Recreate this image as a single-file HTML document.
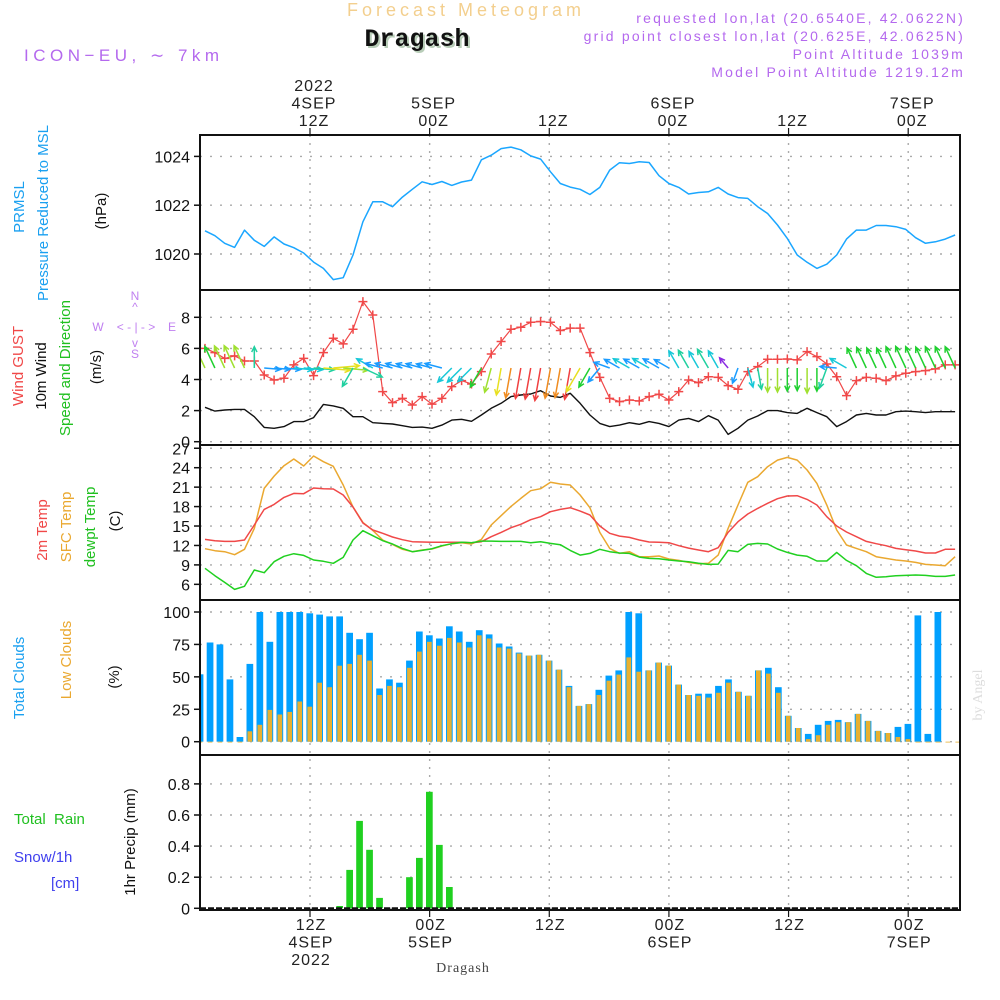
<!DOCTYPE html>
<html><head><meta charset="utf-8"><title>Forecast Meteogram Dragash</title>
<style>
html,body{margin:0;padding:0;background:#fff;}
svg{display:block;font-family:"Liberation Sans",sans-serif;}
</style></head>
<body>
<svg id="chart" width="1000" height="1000" viewBox="0 0 1000 1000" xmlns="http://www.w3.org/2000/svg">
<defs>
<clipPath id="clipAll"><rect x="201" y="136" width="758" height="773"/></clipPath>
</defs>
<!-- header -->
<text x="466" y="16" text-anchor="middle" font-size="18" fill="#f3cf8e" letter-spacing="4">Forecast Meteogram</text>
<text x="419" y="48" text-anchor="middle" font-size="25" font-weight="bold" font-family="Liberation Mono,monospace" fill="#b8cdb8">Dragash</text>
<text x="417" y="46" text-anchor="middle" font-size="25" font-weight="bold" font-family="Liberation Mono,monospace" fill="#111">Dragash</text>
<text x="24" y="61" font-size="17" fill="#b469ee" letter-spacing="4.5">ICON−EU, ∼ 7km</text>
<g font-size="14" fill="#b469ee" text-anchor="end" letter-spacing="2.2">
<text x="965" y="23">requested lon,lat (20.6540E, 42.0622N)</text>
<text x="965" y="41">grid point closest lon,lat (20.625E, 42.0625N)</text>
<text x="965" y="59">Point Altitude 1039m</text>
<text x="965" y="77">Model Point Altitude 1219.12m</text>
</g>
<!-- left labels -->
<g font-size="15">
<text transform="translate(24,207) rotate(-90)" text-anchor="middle" fill="#1aa0f0">PRMSL</text>
<text transform="translate(48,213) rotate(-90)" text-anchor="middle" fill="#1aa0f0">Pressure Reduced to MSL</text>
<text transform="translate(106,211) rotate(-90)" text-anchor="middle" fill="#111">(hPa)</text>
<text transform="translate(23,366) rotate(-90)" text-anchor="middle" fill="#f04848">Wind GUST</text>
<text transform="translate(46,376) rotate(-90)" text-anchor="middle" fill="#111">10m Wind</text>
<text transform="translate(70,368) rotate(-90)" text-anchor="middle" fill="#20c020">Speed and Direction</text>
<text transform="translate(101,367) rotate(-90)" text-anchor="middle" fill="#111">(m/s)</text>
<text transform="translate(47,530) rotate(-90)" text-anchor="middle" fill="#f04848">2m Temp</text>
<text transform="translate(71,527) rotate(-90)" text-anchor="middle" fill="#eaa830">SFC Temp</text>
<text transform="translate(95,527) rotate(-90)" text-anchor="middle" fill="#20c020">dewpt Temp</text>
<text transform="translate(120,521) rotate(-90)" text-anchor="middle" fill="#111">(C)</text>
<text transform="translate(24,678) rotate(-90)" text-anchor="middle" fill="#1aa0f0">Total Clouds</text>
<text transform="translate(71,660) rotate(-90)" text-anchor="middle" fill="#eaa830">Low Clouds</text>
<text transform="translate(119,677) rotate(-90)" text-anchor="middle" fill="#111">(%)</text>
<text x="14" y="824" fill="#20c020" xml:space="preserve">Total  Rain</text>
<text x="14" y="862" fill="#4040ee">Snow/1h</text>
<text x="51" y="888" fill="#4040ee">[cm]</text>
<text transform="translate(135,842) rotate(-90)" text-anchor="middle" fill="#111">1hr Precip (mm)</text>
</g>
<g font-size="12" fill="#c080f0" text-anchor="middle">
<text x="135" y="300">N</text><text x="135" y="311">^</text>
<text x="98" y="331">W</text><text x="136" y="331" xml:space="preserve">&lt; - | - &gt;</text><text x="172" y="331">E</text>
<text x="135" y="347">v</text><text x="135" y="358">S</text>
</g>
<text transform="translate(982,695) rotate(-90)" text-anchor="middle" font-size="14" font-family="Liberation Serif,serif" fill="#ddd">by Angel</text>
<text x="463" y="972" text-anchor="middle" font-size="14" font-family="Liberation Serif,serif" fill="#444" letter-spacing="1">Dragash</text>
<g id="grid"></g>
<g id="marks" clip-path="url(#clipAll)"></g>
<g id="frames"></g>
<g id="labels"></g>
</svg>
<script>
// ---------- data ----------
var tickHours = [12, 24, 36, 48, 60, 72];
var topTickLines = [["2022","4SEP","12Z"],["5SEP","00Z"],["12Z"],["6SEP","00Z"],["12Z"],["7SEP","00Z"]];
var bottomTickLines = [["12Z","4SEP","2022"],["00Z","5SEP"],["12Z"],["00Z","6SEP"],["12Z"],["00Z","7SEP"]];
var pressure = [1020.95,1020.75,1020.44,1020.27,1020.98,1020.56,1020.31,1020.70,1020.41,1020.26,
1020.04,1019.67,1019.41,1018.95,1019.03,1019.96,1021.32,1022.14,1022.14,1021.94,
1022.33,1022.65,1022.96,1022.85,1022.97,1022.81,1022.95,1023.03,1023.86,1024.05,
1024.32,1024.38,1024.27,1024.02,1023.89,1023.37,1022.89,1022.74,1022.65,1022.44,
1022.73,1023.44,1023.74,1023.71,1023.78,1023.75,1023.21,1022.89,1022.73,1022.46,
1022.52,1022.55,1022.73,1022.46,1022.31,1022.28,1021.94,1021.66,1021.19,1020.64,
1019.96,1019.66,1019.41,1019.58,1019.96,1020.61,1020.98,1020.98,1021.17,1021.17,
1021.12,1021.01,1020.67,1020.44,1020.50,1020.61,1020.78];
var pressureTicks = [1020, 1022, 1024];
var windGust = [6.0,5.73,5.36,5.52,5.19,5.19,4.29,3.97,4.08,4.94,
5.36,4.25,5.73,6.65,6.29,7.23,9.01,8.15,3.22,2.51,
2.79,2.36,2.90,2.42,2.79,3.54,3.93,3.71,4.51,5.64,
6.44,7.23,7.36,7.68,7.73,7.68,7.15,7.30,7.30,
5.73,4.14,2.79,2.58,2.68,2.62,2.90,3.05,2.68,3.22,
3.97,3.80,4.18,4.14,3.61,3.37,4.51,4.83,5.30,5.30,
5.32,5.26,5.79,5.47,5.0,4.18,2.96,3.93,4.14,4.08,
3.93,4.23,4.40,4.51,4.57,4.68,4.94,4.94];
var windSpeed = [2.21,1.97,2.04,2.08,2.08,1.61,0.92,0.86,0.97,1.29,
1.29,1.55,2.40,2.30,2.15,1.61,1.61,1.22,1.18,1.14,
1.03,0.92,0.94,0.86,1.07,1.39,1.44,1.31,1.72,2.15,
2.47,2.90,3.0,3.07,3.28,2.94,2.85,3.11,2.47,
1.72,1.18,0.97,1.07,1.22,1.12,1.29,1.18,0.97,1.39,
1.50,1.29,1.67,1.39,0.47,0.86,1.39,1.65,2.0,2.0,
1.87,1.82,2.15,1.87,1.61,0.97,1.29,1.72,1.82,1.72,
1.72,1.93,1.97,1.93,1.87,1.93,1.93,1.93];
var windDir = [335,335,335,335,335,0,95,95,95,95,
95,95,95,85,95,210,115,300,285,285,
285,285,285,285,285,225,225,225,210,195,
190,190,190,190,190,190,190,190,210,
210,220,290,300,300,300,300,300,300,330,
330,330,330,330,320,200,165,170,180,180,
180,180,180,180,200,275,300,335,335,335,
335,335,335,335,335,335,335,335];
var windTicks = [0, 2, 4, 6, 8];
var temp2m = [12.94,12.73,12.63,12.63,12.84,15.15,17.57,18.34,19.42,20.04,
19.99,20.86,20.76,20.71,19.78,17.93,15.46,14.38,13.87,13.30,
12.89,12.58,12.53,12.48,12.48,12.48,12.48,12.43,12.58,13.35,
14.02,14.74,15.26,15.98,16.44,17.21,17.57,17.83,17.31,
16.70,15.0,13.87,13.45,13.25,12.84,12.53,12.48,12.43,11.96,
11.60,11.30,11.04,11.65,14.02,15.67,16.85,17.72,18.50,19.22,
19.63,19.68,19.11,18.24,16.44,15.0,14.07,13.35,12.63,12.27,
11.96,11.55,11.35,11.14,10.83,10.83,11.40,11.40];
var tempSfc = [11.5,11.19,11.04,10.57,11.4,14.64,20.81,22.71,24.31,25.34,
24.26,25.8,24.93,24.21,21.33,17.93,15.56,14.33,12.84,12.17,
11.40,11.04,11.30,11.45,11.91,12.27,12.43,12.22,12.94,15.15,
16.6,18.03,19.27,20.45,20.76,21.74,21.48,21.33,19.78,
17.83,14.02,11.55,10.78,11.04,10.27,10.27,10.37,9.91,9.70,
9.39,9.19,9.24,10.52,14.64,18.24,21.74,22.61,24.15,25.18,
25.59,25.18,23.64,21.58,18.24,14.38,12.07,11.55,11.04,10.27,
10.01,9.75,9.60,9.39,9.08,8.98,8.88,10.27];
var tempDew = [8.47,7.33,6.30,5.22,5.69,8.21,7.80,9.49,10.32,10.73,
10.47,9.75,9.55,9.24,10.16,12.84,14.28,13.51,12.73,12.22,
11.55,11.04,11.24,11.50,11.96,12.27,12.48,12.43,12.68,12.68,
12.63,12.63,12.63,12.43,12.58,12.32,12.12,11.24,10.52,
10.78,11.40,11.04,10.83,10.78,10.21,10.01,9.96,9.75,9.60,
9.49,9.24,9.08,9.13,11.24,11.04,12.17,12.32,12.22,11.45,
10.93,10.52,10.32,9.60,9.60,10.93,9.70,8.88,7.69,7.08,
7.18,7.33,7.38,7.44,7.38,7.23,7.23,7.44];
var tempTicks = [6, 9, 12, 15, 18, 21, 24, 27];
var cloudTotal = [52,76.5,75,48,3.6,60,100,77,100,100,
100,99,98,96.6,96.6,84,79,84,41,48,
45.5,62.5,85,82,79.6,89,85,77,86,82.7,
75.7,73.4,68.7,66.4,67,62.5,55.5,43,27.6,29,
40,51,55,100,99,55,61,58.7,44,36,
37,37,43,48,38.5,35.4,55,57,42,20,
10.6,6,13,16,16.8,15,21.4,16,8.3,6.7,
11.4,13.7,97.4,6,100,0,0];
var cloudLow = [0,0,0,0,0,8,13,24.5,21,23,
31,27,45.5,42,58.6,60,67,62.5,36,43,
42,57,69.5,77,74,80,76.5,72.6,82,79.6,
72.6,71.8,68,66.4,67,62.5,55.5,42,27.6,29,
36,47,51.7,65,54,55,61,58.7,44,36,
35.4,34,37.7,45.5,38.5,35.4,55,52.5,37.7,20,
10.6,2,5,13,15,15,21.4,16,8.3,6.7,
3.6,2,0,0,0,0,0];
var cloudTicks = [0, 25, 50, 75, 100];
var precip = [0,0,0,0,0,0,0,0,0,0,
0,0,0,0,0.015,0.247,0.562,0.376,0.067,0,
0,0.20,0.324,0.749,0.408,0.137,0,0,0,0,
0,0,0,0,0,0,0,0,0,0,
0,0,0,0,0,0,0,0,0,0,
0,0,0,0,0,0,0,0,0,0,
0,0,0,0,0,0,0,0,0,0,
0,0,0,0,0,0,0];
var precipTicks = [0, 0.2, 0.4, 0.6, 0.8];

// ---------- scales ----------
var PX0 = 200, PX1 = 960;
var panels = {
  pres: {top:135, bot:290},
  wind: {top:290, bot:445},
  temp: {top:445, bot:600},
  cloud:{top:600, bot:755},
  rain: {top:755, bot:910}
};
function xHour(h){ return 310 + (h - 12) * 9.97; }
function xLine(k){ return 205 + 9.87 * k; }
function xBar(j){ return 196.7 + 9.97 * j; }
function yPres(p){ return 254 - (p - 1020) * 24.4; }
function yWind(v){ return 441.7 - v * 15.55; }
function yTemp(t){ return 467.7 - (t - 24) * 6.48; }
function yCloud(c){ return 741.7 - c * 1.297; }
function yRain(r){ return 908.3 - r * 155.5; }

var NS = "http://www.w3.org/2000/svg";
function mk(tag, attrs, parent){
  var e = document.createElementNS(NS, tag);
  for (var k in attrs) e.setAttribute(k, attrs[k]);
  if (parent) parent.appendChild(e);
  return e;
}
var gGrid = document.getElementById("grid");
var gMarks = document.getElementById("marks");
var gFrames = document.getElementById("frames");
var gLabels = document.getElementById("labels");

function hGrid(ticks, yf, fmt, panelName){
  ticks.forEach(function(t){
    var y = yf(t);
    var ln = mk("line", {x1:PX0, x2:PX1, y1:y, y2:y, stroke:"#aaa", "stroke-width":1.4, "stroke-dasharray":"2,8"}, gGrid);
    
    
    var tk = mk("line", {x1:PX0-6, x2:PX0, y1:y, y2:y, stroke:"#111", "stroke-width":1.5}, gFrames);
    
    
    var tx = mk("text", {x:PX0-10, y:y+6, "text-anchor":"end", "font-size":16, fill:"#111"}, gLabels);
    tx.textContent = fmt(t);
    
    
  });
}
hGrid(pressureTicks, yPres, function(v){return String(v);}, "pressure");
hGrid(windTicks, yWind, function(v){return String(v);}, "wind");
hGrid(tempTicks, yTemp, function(v){return String(v);}, "temp");
hGrid(cloudTicks, yCloud, function(v){return String(v);}, "cloud");
hGrid(precipTicks, yRain, function(v){return v===0?"0":v.toFixed(1);}, "precip");

tickHours.forEach(function(h, i){
  var x = xHour(h);
  var vl = mk("line", {x1:x, x2:x, y1:135, y2:910, stroke:"#aaa", "stroke-width":1.4, "stroke-dasharray":"2,6"}, gGrid);
  
  
  var t1 = mk("line", {x1:x, x2:x, y1:128, y2:135, stroke:"#111", "stroke-width":1.2}, gFrames);
  
  
  var t2 = mk("line", {x1:x, x2:x, y1:910, y2:917, stroke:"#111", "stroke-width":1.2}, gFrames);
  
  
  var top = topTickLines[i];
  top.forEach(function(s, j){
    var y = 126 - (top.length - 1 - j) * 17.5;
    var tx = mk("text", {x:x+4, y:y, "text-anchor":"middle", "font-size":16, fill:"#222", "letter-spacing":1}, gLabels);
    tx.textContent = s;
    
    
  });
  bottomTickLines[i].forEach(function(s, j){
    var tx = mk("text", {x:x+1, y:930 + j*17.5, "text-anchor":"middle", "font-size":16, fill:"#222", "letter-spacing":1}, gLabels);
    tx.textContent = s;
    
    
  });
});

function polyline(vals, yf, color, name, w){
  var pts = vals.map(function(v, k){ return xLine(k).toFixed(1) + "," + yf(v).toFixed(1); }).join(" ");
  var p = mk("polyline", {points:pts, fill:"none", stroke:color, "stroke-width":w||1.5, "stroke-linejoin":"round"}, gMarks);
  
  
  return p;
}
polyline(pressure, yPres, "#1aa6ff", "pressure-line", 1.5);
polyline(windSpeed, yWind, "#111", "wind-speed-line", 1.4);
polyline(windGust, yWind, "#f04848", "wind-gust-line", 1.2);
windGust.forEach(function(v, k){
  var x = xLine(k), y = yWind(v);
  var c = mk("path", {d:"M"+(x-4.5)+","+y+"h9M"+x+","+(y-4.5)+"v9", stroke:"#f04848", "stroke-width":1.5, fill:"none"}, gMarks);
  
  
});
function windColor(s){
  if (s < 0.7) return "#8a2be2";
  if (s < 1.2) return "#1a9cff";
  if (s < 1.45) return "#18c8d8";
  if (s < 1.7) return "#20d0a0";
  if (s < 2.0) return "#20d030";
  if (s < 2.3) return "#a0e030";
  if (s < 2.7) return "#e8e020";
  if (s < 3.0) return "#f08c20";
  return "#f04040";
}
windDir.forEach(function(b, k){
  var s = windSpeed[k];
  var L = 10 + 7 * s;
  var x0 = xLine(k), y0 = 368;
  var r = b * Math.PI / 180;
  var x1 = x0 + Math.sin(r) * L, y1 = y0 - Math.cos(r) * L;
  var ang = Math.atan2(y1 - y0, x1 - x0);
  var h = 6, a1 = ang + Math.PI - 0.45, a2 = ang + Math.PI + 0.45;
  var d = "M"+x0.toFixed(1)+","+y0+"L"+x1.toFixed(1)+","+y1.toFixed(1)+
          "M"+(x1+Math.cos(a1)*h).toFixed(1)+","+(y1+Math.sin(a1)*h).toFixed(1)+"L"+x1.toFixed(1)+","+y1.toFixed(1)+
          "L"+(x1+Math.cos(a2)*h).toFixed(1)+","+(y1+Math.sin(a2)*h).toFixed(1);
  var p = mk("path", {d:d, stroke:windColor(s), "stroke-width":1.5, fill:"none"}, gMarks);
  
  
});

polyline(tempSfc, yTemp, "#eaa830", "sfc-temp-line", 1.5);
polyline(temp2m, yTemp, "#f04848", "temp-2m-line", 1.5);
polyline(tempDew, yTemp, "#20d020", "dewpt-temp-line", 1.5);

cloudTotal.forEach(function(v, j){
  var x = xBar(j);
  var y = yCloud(v);
  var r = mk("rect", {x:x.toFixed(1), y:y.toFixed(1), width:6.7, height:(yCloud(0)-y).toFixed(1), fill:"#00a0ff"}, gMarks);
  
  
  var lv = cloudLow[j];
  var yl = yCloud(lv);
  var r2 = mk("rect", {x:(x+1).toFixed(1), y:yl.toFixed(1), width:4.7, height:Math.max(0.8,(yCloud(0)-yl)).toFixed(1), fill:"#e8b030"}, gMarks);
  
  
});

precip.forEach(function(v, j){
  if (v <= 0) return;
  var x = xBar(j);
  var y = yRain(v);
  var r = mk("rect", {x:x.toFixed(1), y:y.toFixed(1), width:6.7, height:(yRain(0)-y).toFixed(1), fill:"#20d020"}, gMarks);
  
  
});
var zl = mk("line", {x1:PX0, x2:PX1, y1:yRain(0), y2:yRain(0), stroke:"#111", "stroke-width":2, "stroke-dasharray":"6,2"}, gMarks);



Object.keys(panels).forEach(function(n){
  var p = panels[n];
  var r = mk("rect", {x:PX0, y:p.top, width:PX1-PX0, height:p.bot-p.top, fill:"none", stroke:"#111", "stroke-width":2}, gFrames);
  
  
});
</script>
</body></html>
